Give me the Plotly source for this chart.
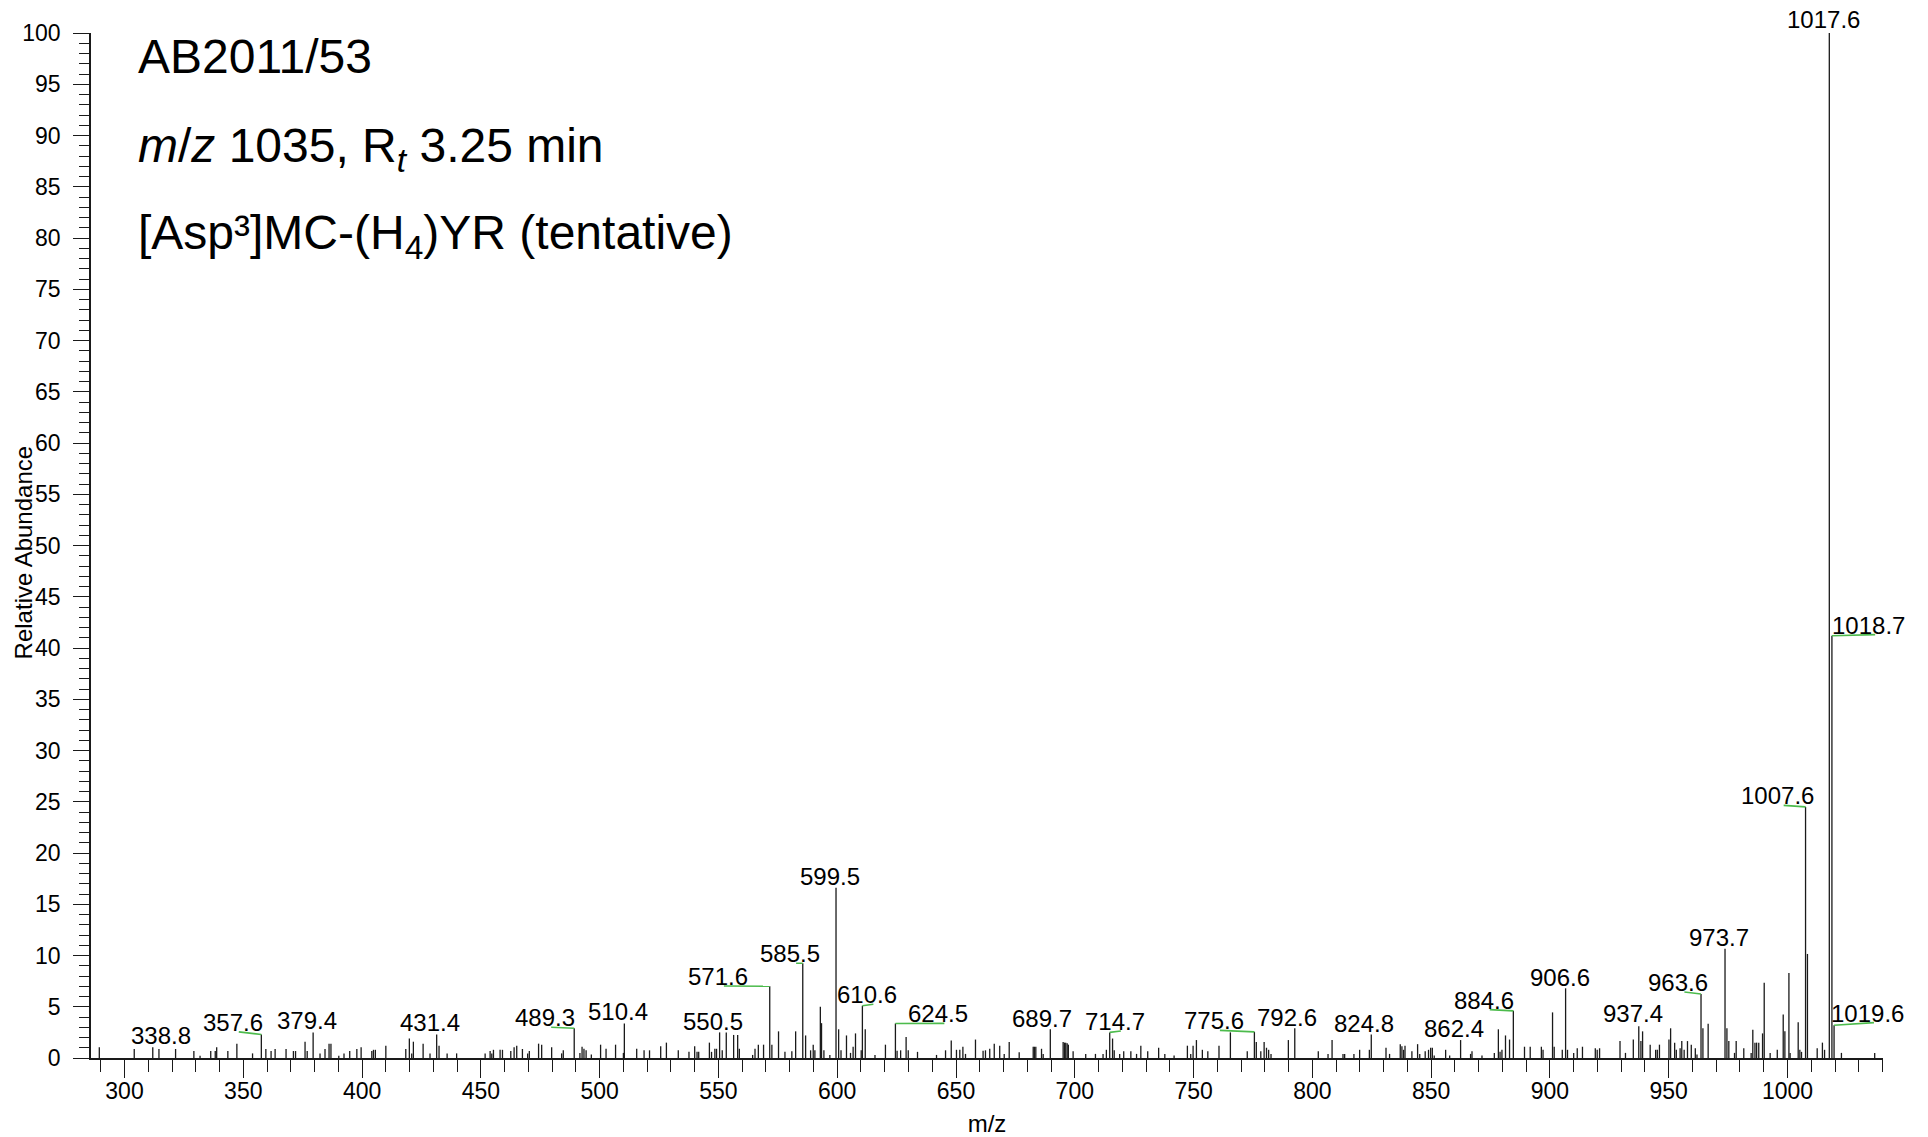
import plotly.graph_objects as go

# ---------------- data ----------------
mz = [
    289.4, 304.1, 311.9, 314.5, 321.5, 329.2, 331.8, 336.3, 338.2, 338.8, 343.5, 347.3,
    353.9, 357.6, 359.5, 361.7, 363.4, 368.0, 371.1, 372.0, 376.0, 376.9, 379.4, 382.3,
    384.4, 386.1, 386.9, 390.2, 392.4, 394.8, 397.8, 399.6, 404.1, 404.8, 405.6, 410.0,
    418.4, 419.9, 420.9, 421.6, 425.7, 428.6, 431.4, 432.4, 435.8, 439.8, 451.8, 453.9,
    454.6, 455.3, 458.1, 459.1, 462.6, 464.0, 465.1, 467.5, 469.7, 470.4, 474.3, 475.6,
    479.8, 484.0, 484.7,
    489.3, 491.7, 492.6, 493.4, 494.3, 496.5, 500.4, 502.7, 506.7, 510.0, 510.4, 515.6,
    518.7, 521.0, 525.7, 528.1, 533.1, 537.6, 540.0, 541.0, 541.7, 546.2, 547.1, 548.5,
    549.2, 550.5, 551.6, 553.3, 556.4, 558.1, 558.8, 564.4, 565.4, 566.8, 569.0, 571.6,
    572.5, 575.3, 578.0, 580.9, 582.5, 585.5, 586.7, 588.8, 589.9, 590.6, 592.9, 593.4,
    594.4, 596.9, 599.5, 600.6, 601.6, 603.9, 605.6, 606.7, 607.7, 610.1, 610.6, 611.8,
    615.9, 620.3, 624.5, 625.2, 626.7, 629.0, 629.9, 633.8, 641.8, 645.6, 648.0, 650.2,
    651.6, 652.9, 654.0, 658.2, 661.4, 662.4, 664.2, 666.1, 668.4, 670.3, 672.4, 676.6,
    682.5, 683.0, 683.6, 686.0, 686.7, 689.7,
    695.1, 695.7, 696.2, 696.8, 697.3, 699.3, 704.6, 708.7, 711.9, 713.3, 714.7, 715.9,
    716.6, 718.9, 720.6, 723.6, 726.0, 727.8, 730.7, 735.3, 737.9, 741.8, 747.4, 748.8,
    749.8, 751.2, 753.7, 756.0, 760.7, 765.5, 772.6, 775.6, 776.4, 778.3, 779.7, 780.7,
    781.6, 782.6, 789.9, 792.6, 802.5, 806.6, 808.3, 812.9, 813.6, 817.5, 819.9, 824.0,
    824.8, 831.0, 832.5, 837.0, 837.7, 838.4, 839.0, 841.9, 844.3, 845.2, 847.5, 848.9,
    849.8, 850.5, 851.3, 856.1, 857.8, 862.4, 866.6, 867.2, 871.4,
    876.6, 878.3, 879.0, 879.8, 881.3, 883.0, 884.6, 889.3, 891.7, 896.4, 897.1, 901.1,
    901.8, 905.2, 906.6, 907.4, 910.0, 911.5, 913.7, 919.1, 919.9, 920.9, 929.5, 931.8,
    935.1, 937.4, 938.3, 939.0, 942.2, 944.5, 945.2, 946.1, 950.1, 950.8, 952.5, 953.2,
    954.8, 955.5, 956.5, 957.9, 959.5, 961.2, 961.9, 963.6, 964.4, 966.6, 973.7, 974.5,
    975.3, 977.7, 978.4, 981.6, 984.7, 985.4, 986.3, 987.0, 987.9, 989.5, 990.2, 992.7,
    995.7, 998.2, 998.9, 1000.6, 1001.1, 1004.5, 1005.2, 1005.9, 1007.6, 1008.4, 1012.5,
    1014.7, 1015.6, 1017.6, 1018.7, 1019.6, 1022.7, 1036.7,
]

abundance = [
    1.05, 0.88, 1.05, 0.88, 0.88, 0.68, 0.23, 0.68, 0.68, 1.05, 0.68, 1.4,
    0.45, 2.3, 0.88, 0.68, 0.88, 0.88, 0.68, 0.68, 1.59, 0.68, 2.5, 0.45,
    0.88, 1.4, 1.4, 0.23, 0.45, 0.68, 0.88, 1.04, 0.68, 0.8, 0.8, 1.2,
    0.88, 1.9, 0.45, 1.59, 1.4, 0.45, 2.3, 1.2, 0.45, 0.45, 0.45, 0.68,
    0.45, 0.8, 0.8, 0.8, 0.68, 1.04, 1.2, 0.88, 0.45, 0.68, 1.4, 1.3,
    1.04, 0.45, 0.75,
    2.9, 0.5, 1.1, 0.9, 0.75, 0.35, 1.3, 0.9, 1.3, 0.5, 3.37, 0.9,
    0.75, 0.75, 1.15, 1.5, 0.75, 0.6, 1.15, 0.6, 0.6, 1.5, 0.6, 0.9,
    0.9, 2.5, 0.75, 2.5, 2.25, 2.25, 0.9, 0.3, 0.9, 1.3, 1.3, 7.0,
    1.3, 2.6, 0.6, 0.65, 2.6, 9.25, 2.2, 0.75, 1.3, 0.75, 5.0, 3.4,
    0.75, 0.3, 16.6, 2.8, 0.75, 2.2, 0.5, 1.1, 2.4, 0.75, 5.1, 2.8,
    0.3, 1.3, 3.37, 0.7, 0.75, 2.05, 0.75, 0.6, 0.3, 0.75, 1.7, 0.8,
    0.8, 1.1, 0.4, 1.8, 0.7, 0.75, 0.9, 1.4, 1.2, 0.4, 1.55, 0.55,
    1.1, 1.1, 1.1, 0.9, 0.4, 2.8,
    1.55, 1.5, 1.5, 1.45, 1.3, 0.65, 0.4, 0.4, 0.4, 0.8, 2.5, 1.9,
    0.75, 0.4, 0.65, 0.65, 0.4, 1.2, 0.65, 1.0, 0.4, 0.25, 1.2, 0.4,
    1.2, 1.75, 0.8, 0.65, 1.2, 2.5, 0.65, 2.55, 1.55, 0.65, 1.55, 1.0,
    0.8, 0.4, 1.75, 2.9, 0.65, 0.4, 1.75, 0.4, 0.4, 0.4, 0.8, 0.8,
    2.3, 1.0, 0.4, 1.35, 1.15, 0.8, 1.2, 0.65, 1.35, 0.4, 0.65, 0.8,
    1.0, 1.0, 0.25, 0.8, 0.25, 1.75, 0.4, 0.65, 0.25,
    0.5, 2.8, 0.6, 0.8, 2.2, 1.8, 4.6, 1.1, 1.1, 1.1, 0.8, 4.45,
    1.1, 0.8, 6.8, 0.8, 0.5, 0.95, 1.1, 0.95, 0.8, 0.95, 1.65, 0.5,
    1.8, 3.1, 1.65, 2.6, 1.3, 0.8, 0.8, 1.3, 1.8, 2.9, 1.5, 0.8,
    0.95, 1.65, 0.8, 1.65, 1.3, 0.95, 0.35, 6.25, 2.9, 3.35, 10.65, 2.9,
    1.65, 0.5, 1.65, 0.95, 0.5, 2.75, 1.5, 1.5, 1.5, 2.4, 7.35, 0.5,
    0.8, 4.25, 2.6, 8.3, 0.5, 3.5, 0.8, 0.6, 24.5, 10.15, 0.95,
    1.5, 0.8, 100.0, 41.2, 3.2, 0.5, 0.5,
]

# labelled peaks (m/z values printed on the spectrum)
label_mz = [338.8, 357.6, 379.4, 431.4, 489.3, 510.4, 550.5, 571.6, 585.5, 599.5,
            610.6, 624.5, 689.7, 714.7, 775.6, 792.6, 824.8, 862.4, 884.6, 906.6,
            937.4, 963.6, 973.7, 1007.6, 1017.6, 1018.7, 1019.6]

# where each label text is centred (m/z) and its baseline (abundance) - layout only
label_center = [315.3, 345.5, 376.7, 428.6, 477.0, 507.9, 547.8, 549.7, 580.1, 597.0,
                612.6, 642.5, 686.0, 716.8, 758.5, 789.5, 821.6, 859.6, 872.1, 904.2,
                934.9, 954.0, 971.1, 995.8, 1015.0, 1034.3, 1033.8]
label_base = [1.25, 2.55, 2.7, 2.55, 3.0, 3.6, 2.63, 7.02, 9.24, 16.8,
              5.24, 3.38, 2.96, 2.63, 2.7, 3.02, 2.47, 1.98, 4.72, 6.96,
              3.38, 6.44, 10.86, 24.65, 100.4, 41.3, 3.45]
leader = [False, True, False, False, True, False, False, True, True, False,
          True, True, False, True, True, False, False, False, True, False,
          False, True, False, True, False, True, True]

x_range = [285.9, 1040.2]
y_range = [0, 100]

# ---------------- styling ----------------
FONT = "Liberation Sans, Arial, Helvetica, sans-serif"
INK = "#1a1a1a"
GREEN = "#4cbb4c"
PX_PER_UNIT = 10.25  # vertical pixels per abundance unit (for label shifts only)

# sticks
sx, sy = [], []
for m, a in zip(mz, abundance):
    sx += [m, m, None]
    sy += [0, a, None]

fig = go.Figure()
fig.add_trace(go.Scatter(x=sx, y=sy, mode="lines",
                         line=dict(color=INK, width=1.3),
                         hoverinfo="skip", showlegend=False))

# green leader lines from label to peak
ab_of = dict(zip(mz, abundance))
gx, gy = [], []
for m, c, b, use in zip(label_mz, label_center, label_base, leader):
    if use:
        gx += [c + 2.6, m, None]
        gy += [b, ab_of[m], None]
fig.add_trace(go.Scatter(x=gx, y=gy, mode="lines",
                         line=dict(color=GREEN, width=1.6),
                         hoverinfo="skip", showlegend=False, cliponaxis=False))

annotations = []
for m, c, b in zip(label_mz, label_center, label_base):
    yy = min(b, y_range[1])
    extra = (b - yy) * PX_PER_UNIT
    annotations.append(dict(x=c, y=yy, xref="x", yref="y", text=f"{m:.1f}",
                            showarrow=False, xanchor="center", yanchor="bottom",
                            yshift=-6 + extra,
                            font=dict(family=FONT, size=24, color="black")))

# header text
header = [
    ("AB2011/53", 0.9492),
    ("<i>m</i>/<i>z</i> 1035, R<sub><i>t</i></sub> 3.25 min", 0.8555),
    ("[Asp³]MC-(H<sub>4</sub>)YR (tentative)", 0.7712),
]
for txt, yy in header:
    annotations.append(dict(x=0.0253, y=yy, xref="paper", yref="paper", text=txt,
                            showarrow=False, xanchor="left", yanchor="bottom",
                            font=dict(family=FONT, size=48, color="black")))

# y-axis title
annotations.append(dict(x=-0.0376, y=0.4929, xref="paper", yref="paper",
                        text="Relative Abundance", textangle=-90, showarrow=False,
                        xanchor="center", yanchor="middle",
                        font=dict(family=FONT, size=24, color="black")))

fig.update_layout(
    width=1928, height=1137,
    margin=dict(l=90.7, r=44.7, t=32.7, b=79.3, pad=0, autoexpand=False),
    paper_bgcolor="white", plot_bgcolor="white",
    font=dict(family=FONT, size=23, color="black"),
    annotations=annotations,
    showlegend=False,
)
fig.update_xaxes(
    range=x_range, showgrid=False, zeroline=False, automargin=False,
    showline=True, linecolor=INK, linewidth=1.6,
    ticks="outside", ticklen=18, tickwidth=1.4, tickcolor=INK,
    tick0=300, dtick=50, ticklabelstandoff=-6,
    tickfont=dict(family=FONT, size=23, color="black"),
    minor=dict(ticks="outside", ticklen=12, tickwidth=1.4, tickcolor=INK,
               tick0=300, dtick=10, showgrid=False),
    title=dict(text="m/z", standoff=17, font=dict(family=FONT, size=24, color="black")),
)
fig.update_yaxes(
    range=y_range, showgrid=False, zeroline=False, automargin=False,
    showline=True, linecolor=INK, linewidth=1.6,
    ticks="outside", ticklen=16, tickwidth=1.4, tickcolor=INK,
    tick0=0, dtick=5, ticklabelstandoff=8,
    tickfont=dict(family=FONT, size=23, color="black"),
    minor=dict(ticks="outside", ticklen=10, tickwidth=1.4, tickcolor=INK,
               tick0=0, dtick=1, showgrid=False),
)

fig.write_html("out.html", config={"displayModeBar": False},
               post_script="document.body.style.margin='0';")
